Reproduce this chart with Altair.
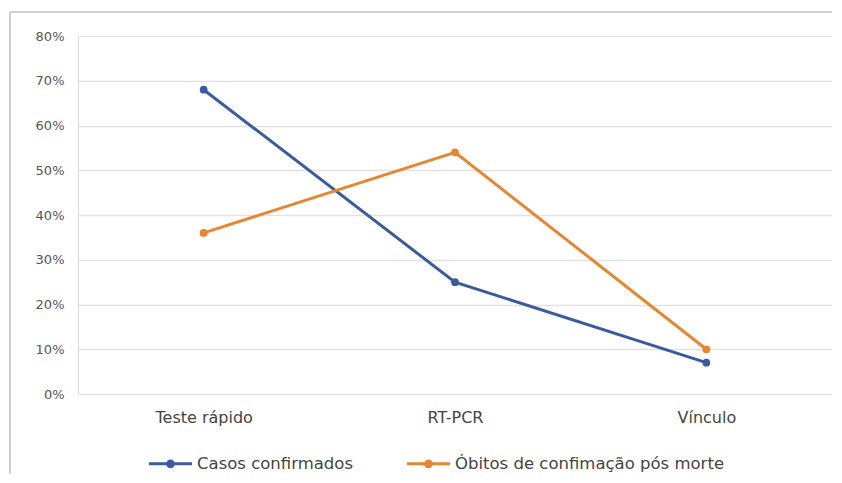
import altair as alt
import pandas as pd

categories = ["Teste rápido", "RT-PCR", "Vínculo"]
series_names = ["Casos confirmados", "Óbitos de confimação pós morte"]
casos = [0.68, 0.25, 0.07]
obitos = [0.36, 0.54, 0.10]
colors = ["#3A5BA0", "#E8852E"]

rows = []
for c, v in zip(categories, casos):
    rows.append({"cat": c, "serie": series_names[0], "val": v})
for c, v in zip(categories, obitos):
    rows.append({"cat": c, "serie": series_names[1], "val": v})
df = pd.DataFrame(rows)

FONT = "DejaVu Sans"

x_enc = alt.X("cat:N", sort=categories, title=None,
              scale=alt.Scale(paddingInner=0, paddingOuter=0),
              axis=alt.Axis(labelAngle=0, domain=False, ticks=False, grid=False,
                            labelPadding=15, labelFontSize=16, labelColor="#444444",
                            labelFont=FONT))
y_enc = alt.Y("val:Q", title=None,
              scale=alt.Scale(domain=[0, 0.8], nice=False),
              axis=alt.Axis(format=".0%", values=[i / 10 for i in range(9)],
                            domain=False, ticks=False, labelPadding=14,
                            labelFontSize=13, labelColor="#555555",
                            labelFont=FONT,
                            gridColor="#E2E2E2", gridWidth=1.5))
color_enc = alt.Color("serie:N", sort=series_names,
                      scale=alt.Scale(domain=series_names, range=colors),
                      legend=alt.Legend(title=None, orient="none", direction="horizontal",
                                        legendX=69, legendY=404,
                                        symbolType="M-1,0L1,0M-0.13,0A0.13,0.13 0 1,1 0.13,0A0.13,0.13 0 1,1 -0.13,0",
                                        symbolSize=1850, symbolStrokeWidth=3,
                                        labelFontSize=16.5, labelColor="#444444",
                                        labelFont=FONT, labelLimit=0,
                                        columnPadding=46, labelOffset=3))

base = alt.Chart(df)
lines = base.mark_line(strokeWidth=3).encode(x=x_enc, y=y_enc, color=color_enc)
points = base.mark_circle(size=60, opacity=1).encode(x=x_enc, y=y_enc,
                                                     color=alt.Color("serie:N", sort=series_names,
                                                                     scale=alt.Scale(domain=series_names, range=colors),
                                                                     legend=None))

frame_left = alt.Chart(df).mark_rule(color="#D0D0D0", strokeWidth=1.5).encode(
    x=alt.value(-68), y=alt.value(-24), y2=alt.value(440))
frame_top = alt.Chart(df).mark_rule(color="#D0D0D0", strokeWidth=1.5).encode(
    x=alt.value(-68), x2=alt.value(754), y=alt.value(-24))

chart = alt.layer(frame_left, frame_top, lines, points).properties(
    width=754, height=358,
    autosize=alt.AutoSizeParams(type="none"),
    padding={"left": 70, "top": 28, "right": 0, "bottom": 80},
).configure_view(stroke=None).configure(background="white")

chart.save("out.html", embed_options={"renderer": "svg", "actions": False})
